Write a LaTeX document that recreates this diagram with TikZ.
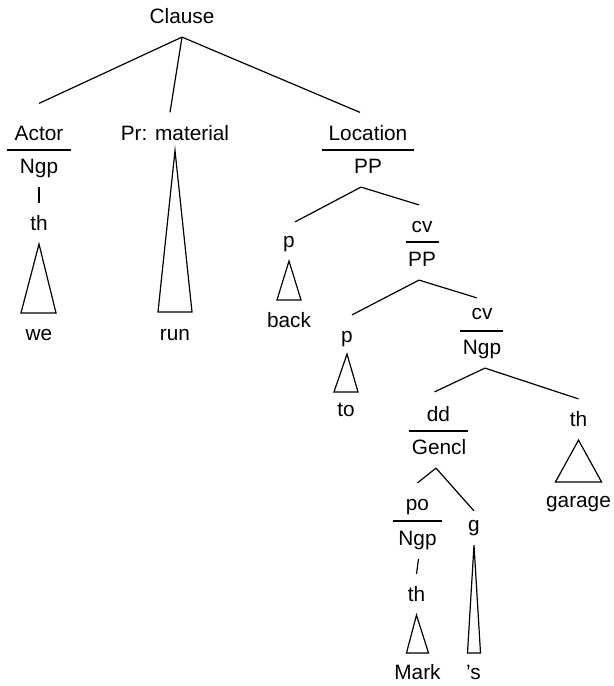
\documentclass[tikz,border=0pt]{standalone}
\usepackage{fontspec}
\setmainfont{Liberation Sans}
\tikzset{every picture/.style={line width=0.6pt}}

\begin{document}
\begin{tikzpicture}[x=0.5pt, y=-0.5pt, font=\fontsize{10.4}{12.5}\selectfont,
    lbl/.style={inner sep=0pt, text height=7.45pt, text depth=0pt, minimum height=20pt}]
    \useasboundingbox (0,0) rectangle (614,686);
    % clause and its elements
    \node[lbl] (clause)   at (182,16.5)  {Clause};
    \node[lbl] (actor)    at (39,133)    {Actor};
    \node[lbl] (ngpA)     at (39,166.5)  {Ngp};
    \node[lbl] (thA)      at (39,223.5)  {th};
    \node[lbl] (we)       at (39,333.5)  {we};
    \node[lbl] (pr)       at (175,133)   {Pr: material};
    \node[lbl] (run)      at (175,333.5) {run};
    \node[lbl] (location) at (368,133)   {Location};
    \node[lbl] (ppA)      at (368,166.5) {PP};
    % prepositional phrases
    \node[lbl] (pA)       at (289,240.5) {p};
    \node[lbl] (back)     at (289,320.5) {back};
    \node[lbl] (cvA)      at (422,225.5) {cv};
    \node[lbl] (ppB)      at (422,259.5) {PP};
    \node[lbl] (pB)       at (347,335.5) {p};
    \node[lbl] (to)       at (346,409.5) {to};
    \node[lbl] (cvB)      at (482,312.5) {cv};
    \node[lbl] (ngpB)     at (482,347.5) {Ngp};
    % nominal group
    \node[lbl] (dd)       at (438.5,414.5) {dd};
    \node[lbl] (gencl)    at (439,447.5) {Gencl};
    \node[lbl] (thB)      at (578.5,419.5) {th};
    \node[lbl] (garage)   at (578.5,500.5) {garage};
    \node[lbl] (po)       at (417.5,503.5) {po};
    \node[lbl] (ngpC)     at (417.5,538.5) {Ngp};
    \node[lbl] (thC)      at (416.5,594.5) {th};
    \node[lbl] (mark)     at (417.5,672.5) {Mark};
    \node[lbl] (g)        at (474,524.5) {g};
    \node[lbl] (s)        at (473.5,672.5) {'s};
    % bars between function and class
    \draw (7,150) -- (71,150);
    \draw (322,150) -- (414,150);
    \draw (406,242) -- (439,242);
    \draw (460,331) -- (503,331);
    \draw (409,431) -- (468,431);
    \draw (393,521) -- (442,521);
    % branches
    \draw (clause.south) -- ([yshift=4.5pt]actor.north);
    \draw (clause.south) -- ([xshift=-2.5pt]pr.north);
    \draw (clause.south) -- ([xshift=-4pt]location.north);
    \coordinate (ppAtop) at ([xshift=-3.5pt]ppA.south);
    \draw (ppAtop) -- ([xshift=3pt,yshift=-1pt]pA.north);
    \draw (ppAtop) -- ([xshift=-1.5pt]cvA.north);
    \coordinate (ppBtop) at ([xshift=-1.5pt]ppB.south);
    \draw (ppBtop) -- ([xshift=2.5pt]pB.north);
    \draw (ppBtop) -- ([xshift=-2.5pt,yshift=-3pt]cvB.north);
    \draw ([xshift=1.5pt]ngpB.south) -- ([xshift=-2pt,yshift=1pt]dd.north);
    \draw ([xshift=1.5pt]ngpB.south) -- (thB.north);
    \draw ([xshift=-1.5pt]gencl.south) -- (po.north);
    \draw ([xshift=-1.5pt]gencl.south) -- ([yshift=-3.5pt]g.north);
    \draw (ngpA.south) -- (thA.north);
    \draw ([xshift=0.5pt]ngpC.south) -- (thC.north);
    % triangles
    \draw (thA.south) -- ([xshift=-9pt]we.north) -- ([xshift=8.5pt]we.north) -- cycle;
    \draw ([yshift=1.5pt]pr.south) -- ([xshift=-8.5pt,yshift=0.5pt]run.north) -- ([xshift=8.5pt,yshift=0.5pt]run.north) -- cycle;
    \draw (pA.south) -- ([xshift=-6pt]back.north) -- ([xshift=6pt]back.north) -- cycle;
    \draw ([yshift=1pt]pB.south) -- ([xshift=-6pt,yshift=-1.5pt]to.north) -- ([xshift=6pt,yshift=-1.5pt]to.north) -- cycle;
    \draw (thB.south) -- ([xshift=-11.5pt,yshift=-1pt]garage.north) -- ([xshift=11.5pt,yshift=-1pt]garage.north) -- cycle;
    \draw (thC.south) -- ([xshift=-5.5pt,yshift=-0.5pt]mark.north) -- ([xshift=5.5pt,yshift=-0.5pt]mark.north) -- cycle;
    \draw (g.south) -- ([xshift=-3pt,yshift=-0.5pt]s.north) -- ([xshift=3.5pt,yshift=-0.5pt]s.north) -- cycle;
\end{tikzpicture}
\end{document}
